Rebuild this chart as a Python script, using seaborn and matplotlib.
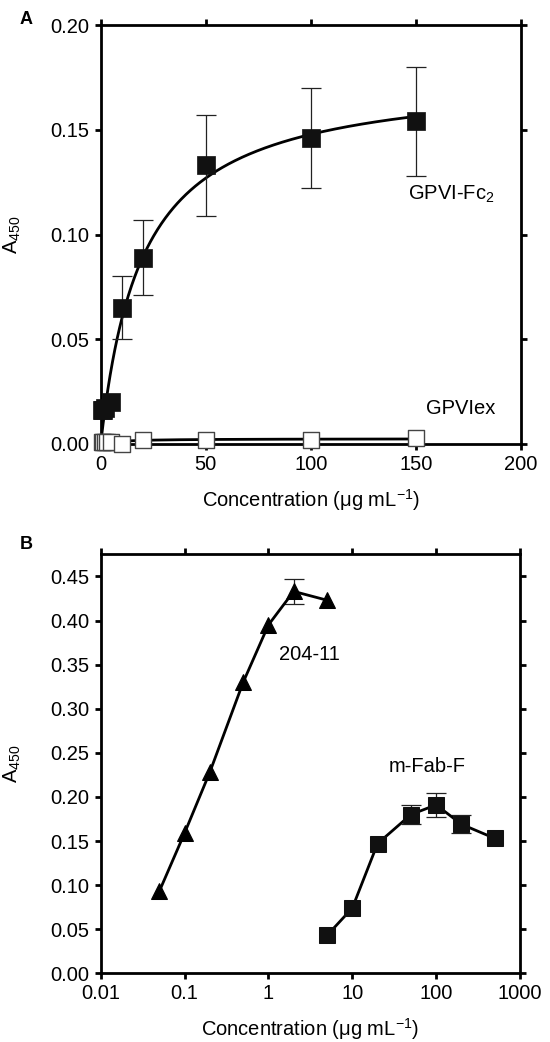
import numpy as np
import pandas as pd
import matplotlib
matplotlib.use("Agg")
import matplotlib.pyplot as plt
import seaborn as sns

# panel A - binding of GPVI-Fc2 and GPVIex
conc_fc2 = [0.5, 1, 2, 5, 10, 20, 50, 100, 150]
a450_fc2 = [0.016, 0.016, 0.017, 0.020, 0.065, 0.089, 0.133, 0.146, 0.154]
err_fc2 = [0, 0, 0, 0, 0.015, 0.018, 0.024, 0.024, 0.026]

conc_ex = [0.5, 1, 2, 3, 5, 10, 20, 50, 100, 150]
a450_ex = [0.001, 0.001, 0.001, 0.001, 0.001, 0.000, 0.002, 0.002, 0.002, 0.003]

# panel B - 204-11 and m-Fab-F
conc_204 = [0.05, 0.1, 0.2, 0.5, 1, 2, 5]
a450_204 = [0.093, 0.159, 0.228, 0.330, 0.395, 0.433, 0.423]
err_204 = [0, 0, 0, 0, 0, 0.014, 0]

conc_fab = [5, 10, 20, 50, 100, 200, 500]
a450_fab = [0.043, 0.074, 0.147, 0.180, 0.191, 0.169, 0.153]
err_fab = [0, 0, 0, 0.011, 0.014, 0.010, 0]

xticks_b = [0.01, 0.1, 1, 10, 100, 1000]
xticklabels_b = ["0.01", "0.1", "1", "10", "100", "1000"]


def fit_hyperbola(x, y):
    # one site binding, Bmax*x/(Kd+x), grid over Kd
    x = np.asarray(x, float)
    y = np.asarray(y, float)
    best = None
    for kd in np.logspace(-2, 3, 2000):
        f = x / (kd + x)
        bmax = (f @ y) / (f @ f)
        sse = ((y - bmax * f) ** 2).sum()
        if best is None or sse < best[0]:
            best = (sse, kd, bmax)
    return best[1], best[2]


FS = 14.5
sns.set_style("ticks")
plt.rcParams['font.family'] = ['Liberation Sans', 'DejaVu Sans']
plt.rcParams['font.size'] = FS
plt.rcParams['text.color'] = 'black'
plt.rcParams['axes.labelcolor'] = 'black'
plt.rcParams['mathtext.fontset'] = 'custom'
plt.rcParams['mathtext.rm'] = 'Liberation Sans'
plt.rcParams['mathtext.it'] = 'Liberation Sans'

fig = plt.figure(figsize=(5.5, 10.42), dpi=100)
axA = fig.add_axes([0.1831, 0.5739, 0.7642, 0.4021])
axB = fig.add_axes([0.1831, 0.0659, 0.7624, 0.4021])

# ---- A
df_fc2 = pd.DataFrame({"c": conc_fc2, "a": a450_fc2, "e": err_fc2})
df_ex = pd.DataFrame({"c": conc_ex, "a": a450_ex})

xs = np.linspace(0, 150, 400)
kd, bmax = fit_hyperbola(conc_fc2, a450_fc2)
sns.lineplot(x=xs, y=bmax * xs / (kd + xs), color="black", lw=2, ax=axA)
kd2, bmax2 = fit_hyperbola(conc_ex, a450_ex)
sns.lineplot(x=xs, y=bmax2 * xs / (kd2 + xs), color="black", lw=2, ax=axA)

eb = df_fc2[df_fc2.e > 0]
axA.errorbar(eb.c, eb.a, yerr=eb.e, fmt="none", ecolor="#222222",
             elinewidth=0.9, capsize=7.5, capthick=0.9, zorder=2)
sns.scatterplot(data=df_ex, x="c", y="a", marker="s", s=120,
                facecolor="white", edgecolor="#444444", linewidth=1,
                ax=axA, zorder=3, clip_on=False)
sns.scatterplot(data=df_fc2, x="c", y="a", marker="s", s=160,
                color="#111111", edgecolor="#111111", linewidth=0.5,
                ax=axA, zorder=4, clip_on=False)

axA.set_xlim(0, 200)
axA.set_ylim(0, 0.20)
axA.set_xticks([0, 50, 100, 150, 200])
axA.set_yticks([0, 0.05, 0.10, 0.15, 0.20])
axA.set_yticklabels(["0.00", "0.05", "0.10", "0.15", "0.20"])
axA.text(146, 0.119, "GPVI-Fc$_2$", fontsize=FS, va="center")
axA.text(155, 0.017, "GPVIex", fontsize=FS, va="center")
fig.text(0.035, 0.981, "A", fontsize=13, fontweight="bold", va="center")

# ---- B
df_204 = pd.DataFrame({"c": conc_204, "a": a450_204, "e": err_204})
df_fab = pd.DataFrame({"c": conc_fab, "a": a450_fab, "e": err_fab})

for d in (df_204, df_fab):
    e = d[d.e > 0]
    axB.errorbar(e.c, e.a, yerr=e.e, fmt="none", ecolor="#222222",
                 elinewidth=0.9, capsize=7, capthick=0.9, zorder=2)
sns.lineplot(data=df_204, x="c", y="a", color="black", lw=2, marker="^",
             markersize=11.5, markeredgecolor="black", ax=axB, zorder=3)
sns.lineplot(data=df_fab, x="c", y="a", color="black", lw=2, marker="s",
             markersize=11.5, markerfacecolor="#111111", markeredgecolor="#111111",
             ax=axB, zorder=3)

axB.set_xscale("log")
axB.set_xlim(0.01, 1000)
axB.set_ylim(0, 0.475)
axB.set_xticks(xticks_b)
axB.set_xticklabels(xticklabels_b)
axB.xaxis.set_minor_locator(matplotlib.ticker.NullLocator())
axB.set_yticks(np.arange(0, 0.46, 0.05))
axB.set_yticklabels([f"{v:.2f}" for v in np.arange(0, 0.46, 0.05)])
axB.text(1.33, 0.362, "204-11", fontsize=FS, va="center")
axB.text(27, 0.235, "m-Fab-F", fontsize=FS, va="center")
fig.text(0.035, 0.477, "B", fontsize=13, fontweight="bold", va="center")

for ax in (axA, axB):
    for sp in ax.spines.values():
        sp.set_visible(True)
        sp.set_linewidth(2)
        sp.set_color("black")
    ax.tick_params(which="both", direction="out", length=4.5, width=2,
                   top=True, right=True, labeltop=False, labelright=False,
                   labelsize=FS, pad=3.5, colors="black")
    ax.set_ylabel("A$_{450}$", fontsize=FS)
    ax.yaxis.set_label_coords(-0.185, 0.5)
    ax.set_xlabel("Concentration (μg mL$^{-1}$)", fontsize=FS, labelpad=9)

fig.savefig("out.png", dpi=100)
